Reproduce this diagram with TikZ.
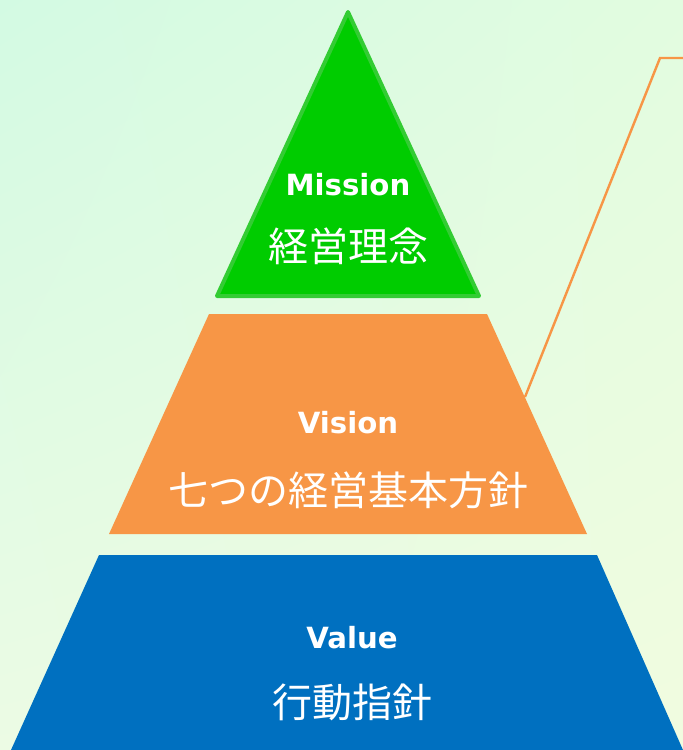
\documentclass[tikz,border=0pt]{standalone}
\usepackage{fontspec}
\usetikzlibrary{shadings}
\setmainfont{DejaVu Sans}
\newfontfamily\jpfont{Noto Sans CJK JP}
\definecolor{bgmint}{HTML}{D3FAE3}
\definecolor{bgmintr}{HTML}{E2FCE0}
\definecolor{bgpale}{HTML}{ECFBE4}
\definecolor{bgpaler}{HTML}{F1FCE0}
\definecolor{missionfill}{HTML}{00CC00}
\definecolor{missionedge}{HTML}{33CC33}
\definecolor{visionfill}{HTML}{F79646}
\definecolor{valuefill}{HTML}{0070C0}
\tikzset{
  engtitle/.style={text=white, inner sep=0pt, font=\bfseries\fontsize{14.6}{18}\selectfont},
  jptitle/.style={text=white, inner sep=0pt, font=\jpfont\fontsize{20}{24}\selectfont},
}
\begin{document}
\begin{tikzpicture}[x=0.5pt, y=-0.5pt]
    % Background
    \shade[upper left=bgmint, upper right=bgmintr, lower left=bgpale, lower right=bgpaler]
        (0,0) rectangle (683,750);
    \useasboundingbox (0,0) rectangle (683,750);

    % Leader line from the Vision layer
    \coordinate (lead) at (525,397);
    \coordinate (bend) at (660,58);
    \coordinate (tail) at (683,58);
    \draw[visionfill, line width=1.2pt] (lead) -- (bend) -- (tail);

    % Mission (top triangle)
    \filldraw[fill=missionfill, draw=missionedge, line width=2pt, line join=round]
        (348,12) -- (479,296) -- (217,296) -- cycle;
    \node[engtitle] (mission) at (348,185) {Mission};
    \node[jptitle] (missionjp) at (348,246) {経営理念};

    % Vision (middle trapezoid)
    \fill[visionfill] (209,314) -- (487,314) -- (587,534) -- (109,534) -- cycle;
    \node[engtitle] (vision) at (348,423) {Vision};
    \node[jptitle] (visionjp) at (348,490) {七つの経営基本方針};

    % Value (bottom trapezoid)
    \fill[valuefill] (99,555) -- (597,555) -- (683,750) -- (11,750) -- cycle;
    \node[engtitle] (value) at (352,638) {Value};
    \node[jptitle] (valuejp) at (352,702) {行動指針};
\end{tikzpicture}
\end{document}
